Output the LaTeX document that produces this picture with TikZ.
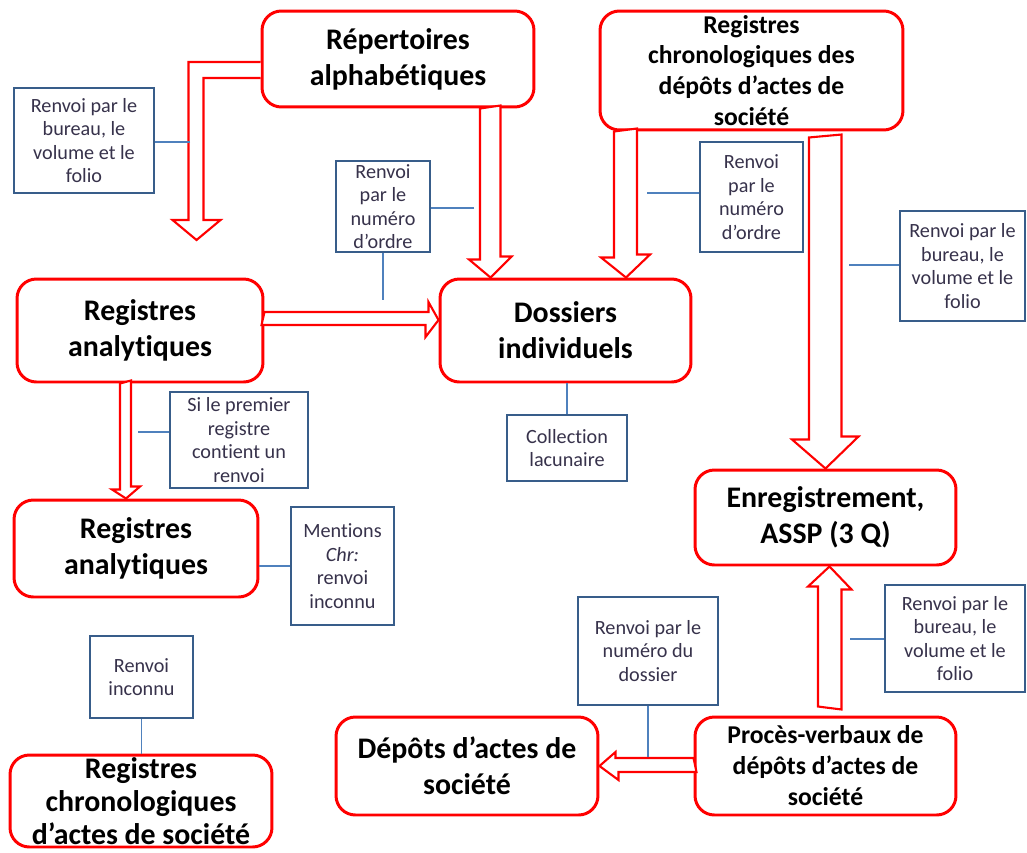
\documentclass[tikz,border=0pt]{standalone}
\usepackage{fontspec}
\setmainfont[Ligatures=NoCommon]{Carlito}
\usetikzlibrary{calc}
\definecolor{bleubord}{RGB}{56,93,138}
\definecolor{bleulien}{RGB}{79,129,189}
\definecolor{texte}{RGB}{55,50,75}

\begin{document}
\begin{tikzpicture}[x=0.02cm, y=-0.02cm,
		boite/.style={draw=red, line width=1.7pt, rounded corners=11pt, fill=white, align=center, inner sep=0pt, font=\bfseries\fontsize{17}{20.5}\selectfont},
		petite/.style={font=\bfseries\fontsize{14.6}{17.6}\selectfont},
		serree/.style={font=\bfseries\fontsize{17}{18.8}\selectfont},
		renvoi/.style={draw=bleubord, line width=1.4pt, fill=white, align=center, inner sep=0pt, text=texte, font=\fontsize{11.5}{13.4}\selectfont},
		fleche/.style={draw=red, line width=1.2pt, fill=white, line join=miter},
		lien/.style={draw=bleulien, line width=1.1pt}]
		\useasboundingbox (0,0) rectangle (1027,852);

		% Boîtes principales
		\node[boite, minimum width=5.44cm, minimum height=1.92cm] (rep) at (398,59) {Répertoires\\alphabétiques};
		\node[boite, petite, minimum width=6.06cm, minimum height=2.38cm] (chr) at (751.5,70.5) {Registres\\chronologiques des\\dépôts d’actes de\\société};
		\node[boite, minimum width=4.92cm, minimum height=2.06cm] (ana1) at (140,330.5) {Registres\\analytiques};
		\node[boite, minimum width=5.02cm, minimum height=2.06cm] (dos) at (565.5,330.5) {Dossiers\\individuels};
		\node[boite, minimum width=4.88cm, minimum height=1.94cm] (ana2) at (136,548.5) {Registres\\analytiques};
		\node[boite, minimum width=5.22cm, minimum height=1.90cm] (enr) at (825.5,517.5) {Enregistrement,\\ASSP (3 Q)};
		\node[boite, minimum width=5.24cm, minimum height=1.96cm] (dep) at (467,766) {Dépôts d’actes de\\société};
		\node[boite, petite, minimum width=5.22cm, minimum height=1.96cm] (proc) at (825.5,766) {Procès-verbaux de\\dépôts d’actes de\\société};
		\node[boite, serree, minimum width=5.24cm, minimum height=1.84cm] (rch) at (141,801) {Registres\\chronologiques\\d’actes de société};

		% Renvois
		\node[renvoi, minimum width=2.80cm, minimum height=2.10cm] (ba) at (84,140.5) {Renvoi par le\\bureau, le\\volume et le\\folio};
		\node[renvoi, minimum width=1.88cm, minimum height=1.82cm] (bo1) at (383,206.5) {Renvoi\\par le\\numéro\\d’ordre};
		\node[renvoi, minimum width=2.06cm, minimum height=2.20cm] (bo2) at (751.5,197) {Renvoi\\par le\\numéro\\d’ordre};
		\node[renvoi, minimum width=2.50cm, minimum height=2.20cm] (bb2) at (962.5,266) {Renvoi par le\\bureau, le\\volume et le\\folio};
		\node[renvoi, minimum width=2.76cm, minimum height=1.92cm] (bsi) at (239,440) {Si le premier\\registre\\contient un\\renvoi};
		\node[renvoi, minimum width=2.40cm, minimum height=1.32cm] (bcol) at (567,448) {Collection\\lacunaire};
		\node[renvoi, minimum width=2.06cm, minimum height=2.36cm] (bmen) at (342.5,566) {Mentions\\\textit{Chr:}\\renvoi\\inconnu};
		\node[renvoi, minimum width=2.06cm, minimum height=1.64cm] (binc) at (141.5,677) {Renvoi\\inconnu};
		\node[renvoi, minimum width=2.80cm, minimum height=2.16cm] (bdos) at (648,651) {Renvoi par le\\numéro du\\dossier};
		\node[renvoi, minimum width=2.80cm, minimum height=2.14cm] (bb3) at (955,638.5) {Renvoi par le\\bureau, le\\volume et le\\folio};

		% Flèches
		\draw[fleche] ($(rep.west)+(0,3)$) -- ++(-72,0) -- ++(0,158) -- ++(-16,0) -- ++(24,20) -- ++(24,-20) -- ++(-17,0) -- ++(0,-142) -- ++(57,0);
		\draw[fleche] ($(rep.south)+(82,0)$) -- ++(0,151) -- ++(-11,0) -- ($(dos.north)+(-75,0)$) -- ++(21,-21) -- ++(-11,0) -- ++(0,-151) -- cycle;
		\draw[fleche] ($(chr.south)+(-137.5,0)$) -- ++(0,126) -- ++(-13,0) -- ($(dos.north)+(60.5,0)$) -- ++(24,-23) -- ++(-13,0) -- ++(0,-126) -- cycle;
		\draw[fleche] ($(chr.south)+(57.5,6)$) -- ++(0,302) -- ++(-17,0) -- (enr.north) -- ++(33,-32) -- ++(-17,0) -- ++(0,-302) -- cycle;
		\draw[fleche] ($(ana1.east)+(0,-18.5)$) -- ++(164,0) -- ++(0,-10) -- ($(dos.west)+(0,-10.5)$) -- ++(-13,17) -- ++(0,-12) -- ++(-164,0) -- cycle;
		\draw[fleche] ($(ana1.south)+(-20,0)$) -- ++(0,106) -- ++(-8,0) -- ($(ana2.north)+(-10,0)$) -- ++(14,-12) -- ++(-9,0) -- ++(0,-106) -- cycle;
		\draw[fleche] ($(proc.north)+(-7.5,-9)$) -- ++(0,-120) -- ++(-10,0) -- ($(enr.south)+(4,0)$) -- ++(22,23) -- ++(-10,0) -- ++(0,120) -- cycle;
		\draw[fleche] ($(proc.west)+(0,-8)$) -- ++(-78,0) -- ++(0,-6) -- (dep.east) -- ++(19,14) -- ++(0,-8) -- ++(78,0) -- cycle;

		% Points libres des liens
		\coordinate (cba) at (190,142);
		\coordinate (cbo1) at (474,208);
		\coordinate (cbo1b) at (383,300);
		\coordinate (cbo2) at (647,193);
		\coordinate (cbb2) at (849,265);
		\coordinate (csi) at (138,432);
		\coordinate (cdos) at (648,757);
		\coordinate (cbb3) at (850,639);

		% Liens
		\draw[lien] (cba) -- (cba -| ba.east);
		\draw[lien] (cbo1) -- (cbo1 -| bo1.east);
		\draw[lien] (bo1.south) -- (cbo1b);
		\draw[lien] (cbo2) -- (cbo2 -| bo2.west);
		\draw[lien] (cbb2) -- (cbb2 -| bb2.west);
		\draw[lien] (csi) -- (csi -| bsi.west);
		\draw[lien] (bcol.north) -- (bcol.north |- dos.south);
		\draw[lien] (bmen.west) -- (bmen.west -| ana2.east);
		\draw[lien] (binc.south) -- (binc.south |- rch.north);
		\draw[lien] (bdos.south) -- (cdos);
		\draw[lien] (cbb3) -- (cbb3 -| bb3.west);
	\end{tikzpicture}
\end{document}
